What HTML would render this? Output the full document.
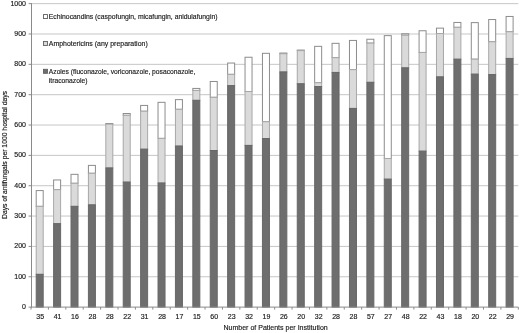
<!DOCTYPE html>
<html><head><meta charset="utf-8"><style>
html,body{margin:0;padding:0;background:#fff;}
body{width:520px;height:333px;overflow:hidden;}
svg{display:block;}
.t{font-family:"Liberation Sans",sans-serif;font-size:7px;fill:#1a1a1a;stroke:#1a1a1a;stroke-width:0.16px;}
svg{will-change:transform;}
.l{font-size:7.5px;}
</style></head><body>
<svg width="520" height="333" viewBox="0 0 520 333">
<rect width="520" height="333" fill="#fff"/>
<line x1="31.0" y1="276.75" x2="518.3" y2="276.75" stroke="#c6c6c6" stroke-width="1"/>
<line x1="31.0" y1="246.41" x2="518.3" y2="246.41" stroke="#c6c6c6" stroke-width="1"/>
<line x1="31.0" y1="216.06" x2="518.3" y2="216.06" stroke="#c6c6c6" stroke-width="1"/>
<line x1="31.0" y1="185.72" x2="518.3" y2="185.72" stroke="#c6c6c6" stroke-width="1"/>
<line x1="31.0" y1="155.38" x2="518.3" y2="155.38" stroke="#c6c6c6" stroke-width="1"/>
<line x1="31.0" y1="125.03" x2="518.3" y2="125.03" stroke="#c6c6c6" stroke-width="1"/>
<line x1="31.0" y1="94.69" x2="518.3" y2="94.69" stroke="#c6c6c6" stroke-width="1"/>
<line x1="31.0" y1="64.34" x2="518.3" y2="64.34" stroke="#c6c6c6" stroke-width="1"/>
<line x1="31.0" y1="33.99" x2="518.3" y2="33.99" stroke="#c6c6c6" stroke-width="1"/>
<line x1="31.0" y1="3.65" x2="518.3" y2="3.65" stroke="#c6c6c6" stroke-width="1"/>
<line x1="28.6" y1="307.10" x2="31.0" y2="307.10" stroke="#8a8a8a" stroke-width="1"/>
<text x="26" y="309.00" text-anchor="end" class="t">0</text>
<line x1="28.6" y1="276.75" x2="31.0" y2="276.75" stroke="#8a8a8a" stroke-width="1"/>
<text x="26" y="278.65" text-anchor="end" class="t">100</text>
<line x1="28.6" y1="246.41" x2="31.0" y2="246.41" stroke="#8a8a8a" stroke-width="1"/>
<text x="26" y="248.31" text-anchor="end" class="t">200</text>
<line x1="28.6" y1="216.06" x2="31.0" y2="216.06" stroke="#8a8a8a" stroke-width="1"/>
<text x="26" y="217.97" text-anchor="end" class="t">300</text>
<line x1="28.6" y1="185.72" x2="31.0" y2="185.72" stroke="#8a8a8a" stroke-width="1"/>
<text x="26" y="187.62" text-anchor="end" class="t">400</text>
<line x1="28.6" y1="155.38" x2="31.0" y2="155.38" stroke="#8a8a8a" stroke-width="1"/>
<text x="26" y="157.28" text-anchor="end" class="t">500</text>
<line x1="28.6" y1="125.03" x2="31.0" y2="125.03" stroke="#8a8a8a" stroke-width="1"/>
<text x="26" y="126.93" text-anchor="end" class="t">600</text>
<line x1="28.6" y1="94.69" x2="31.0" y2="94.69" stroke="#8a8a8a" stroke-width="1"/>
<text x="26" y="96.59" text-anchor="end" class="t">700</text>
<line x1="28.6" y1="64.34" x2="31.0" y2="64.34" stroke="#8a8a8a" stroke-width="1"/>
<text x="26" y="66.24" text-anchor="end" class="t">800</text>
<line x1="28.6" y1="33.99" x2="31.0" y2="33.99" stroke="#8a8a8a" stroke-width="1"/>
<text x="26" y="35.89" text-anchor="end" class="t">900</text>
<line x1="28.6" y1="3.65" x2="31.0" y2="3.65" stroke="#8a8a8a" stroke-width="1"/>
<text x="26" y="5.55" text-anchor="end" class="t">1000</text>
<rect x="36.20" y="190.58" width="7.00" height="15.78" fill="#ffffff" stroke="#8c8c8c" stroke-width="1"/>
<rect x="36.20" y="206.35" width="7.00" height="67.97" fill="#dadada" stroke="#a8a8a8" stroke-width="1"/>
<rect x="36.20" y="274.33" width="7.00" height="32.77" fill="#6e6e6e" stroke="#686868" stroke-width="1"/>
<rect x="53.61" y="179.95" width="7.00" height="9.71" fill="#ffffff" stroke="#8c8c8c" stroke-width="1"/>
<rect x="53.61" y="189.66" width="7.00" height="33.99" fill="#dadada" stroke="#a8a8a8" stroke-width="1"/>
<rect x="53.61" y="223.65" width="7.00" height="83.45" fill="#6e6e6e" stroke="#686868" stroke-width="1"/>
<rect x="71.01" y="174.34" width="7.00" height="8.95" fill="#ffffff" stroke="#8c8c8c" stroke-width="1"/>
<rect x="71.01" y="183.29" width="7.00" height="23.06" fill="#dadada" stroke="#a8a8a8" stroke-width="1"/>
<rect x="71.01" y="206.35" width="7.00" height="100.75" fill="#6e6e6e" stroke="#686868" stroke-width="1"/>
<rect x="88.41" y="165.39" width="7.00" height="7.89" fill="#ffffff" stroke="#8c8c8c" stroke-width="1"/>
<rect x="88.41" y="173.28" width="7.00" height="31.56" fill="#dadada" stroke="#a8a8a8" stroke-width="1"/>
<rect x="88.41" y="204.84" width="7.00" height="102.26" fill="#6e6e6e" stroke="#686868" stroke-width="1"/>
<rect x="105.82" y="123.51" width="7.00" height="0.61" fill="#ffffff" stroke="#8c8c8c" stroke-width="1"/>
<rect x="105.82" y="124.12" width="7.00" height="43.82" fill="#dadada" stroke="#a8a8a8" stroke-width="1"/>
<rect x="105.82" y="167.94" width="7.00" height="139.16" fill="#6e6e6e" stroke="#686868" stroke-width="1"/>
<rect x="123.22" y="113.50" width="7.00" height="1.82" fill="#ffffff" stroke="#8c8c8c" stroke-width="1"/>
<rect x="123.22" y="115.32" width="7.00" height="66.76" fill="#dadada" stroke="#a8a8a8" stroke-width="1"/>
<rect x="123.22" y="182.08" width="7.00" height="125.02" fill="#6e6e6e" stroke="#686868" stroke-width="1"/>
<rect x="140.62" y="105.43" width="7.00" height="5.80" fill="#ffffff" stroke="#8c8c8c" stroke-width="1"/>
<rect x="140.62" y="111.22" width="7.00" height="37.96" fill="#dadada" stroke="#a8a8a8" stroke-width="1"/>
<rect x="140.62" y="149.18" width="7.00" height="157.92" fill="#6e6e6e" stroke="#686868" stroke-width="1"/>
<rect x="158.03" y="102.33" width="7.00" height="36.05" fill="#ffffff" stroke="#8c8c8c" stroke-width="1"/>
<rect x="158.03" y="138.38" width="7.00" height="44.61" fill="#dadada" stroke="#a8a8a8" stroke-width="1"/>
<rect x="158.03" y="182.99" width="7.00" height="124.11" fill="#6e6e6e" stroke="#686868" stroke-width="1"/>
<rect x="175.43" y="99.63" width="7.00" height="9.68" fill="#ffffff" stroke="#8c8c8c" stroke-width="1"/>
<rect x="175.43" y="109.31" width="7.00" height="36.72" fill="#dadada" stroke="#a8a8a8" stroke-width="1"/>
<rect x="175.43" y="146.03" width="7.00" height="161.07" fill="#6e6e6e" stroke="#686868" stroke-width="1"/>
<rect x="192.83" y="88.43" width="7.00" height="2.00" fill="#ffffff" stroke="#8c8c8c" stroke-width="1"/>
<rect x="192.83" y="90.44" width="7.00" height="9.89" fill="#dadada" stroke="#a8a8a8" stroke-width="1"/>
<rect x="192.83" y="100.33" width="7.00" height="206.77" fill="#6e6e6e" stroke="#686868" stroke-width="1"/>
<rect x="210.24" y="81.48" width="7.00" height="15.84" fill="#ffffff" stroke="#8c8c8c" stroke-width="1"/>
<rect x="210.24" y="97.33" width="7.00" height="53.19" fill="#dadada" stroke="#a8a8a8" stroke-width="1"/>
<rect x="210.24" y="150.52" width="7.00" height="156.58" fill="#6e6e6e" stroke="#686868" stroke-width="1"/>
<rect x="227.64" y="63.04" width="7.00" height="11.32" fill="#ffffff" stroke="#8c8c8c" stroke-width="1"/>
<rect x="227.64" y="74.35" width="7.00" height="11.23" fill="#dadada" stroke="#a8a8a8" stroke-width="1"/>
<rect x="227.64" y="85.58" width="7.00" height="221.52" fill="#6e6e6e" stroke="#686868" stroke-width="1"/>
<rect x="245.04" y="57.24" width="7.00" height="34.26" fill="#ffffff" stroke="#8c8c8c" stroke-width="1"/>
<rect x="245.04" y="91.50" width="7.00" height="53.92" fill="#dadada" stroke="#a8a8a8" stroke-width="1"/>
<rect x="245.04" y="145.42" width="7.00" height="161.68" fill="#6e6e6e" stroke="#686868" stroke-width="1"/>
<rect x="262.45" y="53.32" width="7.00" height="68.40" fill="#ffffff" stroke="#8c8c8c" stroke-width="1"/>
<rect x="262.45" y="121.72" width="7.00" height="16.81" fill="#dadada" stroke="#a8a8a8" stroke-width="1"/>
<rect x="262.45" y="138.53" width="7.00" height="168.57" fill="#6e6e6e" stroke="#686868" stroke-width="1"/>
<rect x="279.85" y="53.05" width="7.00" height="0.67" fill="#ffffff" stroke="#8c8c8c" stroke-width="1"/>
<rect x="279.85" y="53.72" width="7.00" height="18.21" fill="#dadada" stroke="#a8a8a8" stroke-width="1"/>
<rect x="279.85" y="71.93" width="7.00" height="235.17" fill="#6e6e6e" stroke="#686868" stroke-width="1"/>
<rect x="297.26" y="50.08" width="7.00" height="0.55" fill="#ffffff" stroke="#8c8c8c" stroke-width="1"/>
<rect x="297.26" y="50.62" width="7.00" height="33.14" fill="#dadada" stroke="#a8a8a8" stroke-width="1"/>
<rect x="297.26" y="83.76" width="7.00" height="223.34" fill="#6e6e6e" stroke="#686868" stroke-width="1"/>
<rect x="314.66" y="46.35" width="7.00" height="36.38" fill="#ffffff" stroke="#8c8c8c" stroke-width="1"/>
<rect x="314.66" y="82.73" width="7.00" height="3.82" fill="#dadada" stroke="#a8a8a8" stroke-width="1"/>
<rect x="314.66" y="86.55" width="7.00" height="220.55" fill="#6e6e6e" stroke="#686868" stroke-width="1"/>
<rect x="332.06" y="43.34" width="7.00" height="14.32" fill="#ffffff" stroke="#8c8c8c" stroke-width="1"/>
<rect x="332.06" y="57.66" width="7.00" height="14.78" fill="#dadada" stroke="#a8a8a8" stroke-width="1"/>
<rect x="332.06" y="72.44" width="7.00" height="234.66" fill="#6e6e6e" stroke="#686868" stroke-width="1"/>
<rect x="349.47" y="40.43" width="7.00" height="29.22" fill="#ffffff" stroke="#8c8c8c" stroke-width="1"/>
<rect x="349.47" y="69.65" width="7.00" height="38.78" fill="#dadada" stroke="#a8a8a8" stroke-width="1"/>
<rect x="349.47" y="108.43" width="7.00" height="198.67" fill="#6e6e6e" stroke="#686868" stroke-width="1"/>
<rect x="366.87" y="39.24" width="7.00" height="3.88" fill="#ffffff" stroke="#8c8c8c" stroke-width="1"/>
<rect x="366.87" y="43.13" width="7.00" height="39.18" fill="#dadada" stroke="#a8a8a8" stroke-width="1"/>
<rect x="366.87" y="82.30" width="7.00" height="224.80" fill="#6e6e6e" stroke="#686868" stroke-width="1"/>
<rect x="384.27" y="35.63" width="7.00" height="122.90" fill="#ffffff" stroke="#8c8c8c" stroke-width="1"/>
<rect x="384.27" y="158.53" width="7.00" height="20.60" fill="#dadada" stroke="#a8a8a8" stroke-width="1"/>
<rect x="384.27" y="179.14" width="7.00" height="127.96" fill="#6e6e6e" stroke="#686868" stroke-width="1"/>
<rect x="401.68" y="33.75" width="7.00" height="1.46" fill="#ffffff" stroke="#8c8c8c" stroke-width="1"/>
<rect x="401.68" y="35.21" width="7.00" height="32.62" fill="#dadada" stroke="#a8a8a8" stroke-width="1"/>
<rect x="401.68" y="67.83" width="7.00" height="239.27" fill="#6e6e6e" stroke="#686868" stroke-width="1"/>
<rect x="419.08" y="30.75" width="7.00" height="21.70" fill="#ffffff" stroke="#8c8c8c" stroke-width="1"/>
<rect x="419.08" y="52.44" width="7.00" height="98.68" fill="#dadada" stroke="#a8a8a8" stroke-width="1"/>
<rect x="419.08" y="151.13" width="7.00" height="155.97" fill="#6e6e6e" stroke="#686868" stroke-width="1"/>
<rect x="436.48" y="28.14" width="7.00" height="5.40" fill="#ffffff" stroke="#8c8c8c" stroke-width="1"/>
<rect x="436.48" y="33.54" width="7.00" height="43.30" fill="#dadada" stroke="#a8a8a8" stroke-width="1"/>
<rect x="436.48" y="76.84" width="7.00" height="230.26" fill="#6e6e6e" stroke="#686868" stroke-width="1"/>
<rect x="453.89" y="22.46" width="7.00" height="4.86" fill="#ffffff" stroke="#8c8c8c" stroke-width="1"/>
<rect x="453.89" y="27.32" width="7.00" height="31.86" fill="#dadada" stroke="#a8a8a8" stroke-width="1"/>
<rect x="453.89" y="59.18" width="7.00" height="247.92" fill="#6e6e6e" stroke="#686868" stroke-width="1"/>
<rect x="471.29" y="22.62" width="7.00" height="36.57" fill="#ffffff" stroke="#8c8c8c" stroke-width="1"/>
<rect x="471.29" y="59.18" width="7.00" height="14.96" fill="#dadada" stroke="#a8a8a8" stroke-width="1"/>
<rect x="471.29" y="74.14" width="7.00" height="232.96" fill="#6e6e6e" stroke="#686868" stroke-width="1"/>
<rect x="488.69" y="19.55" width="7.00" height="22.21" fill="#ffffff" stroke="#8c8c8c" stroke-width="1"/>
<rect x="488.69" y="41.76" width="7.00" height="32.77" fill="#dadada" stroke="#a8a8a8" stroke-width="1"/>
<rect x="488.69" y="74.54" width="7.00" height="232.56" fill="#6e6e6e" stroke="#686868" stroke-width="1"/>
<rect x="506.10" y="16.46" width="7.00" height="15.29" fill="#ffffff" stroke="#8c8c8c" stroke-width="1"/>
<rect x="506.10" y="31.75" width="7.00" height="26.70" fill="#dadada" stroke="#a8a8a8" stroke-width="1"/>
<rect x="506.10" y="58.45" width="7.00" height="248.65" fill="#6e6e6e" stroke="#686868" stroke-width="1"/>
<line x1="31.0" y1="307.1" x2="518.3" y2="307.1" stroke="#8a8a8a" stroke-width="1"/>
<line x1="31.5" y1="3.15" x2="31.5" y2="307.6" stroke="#8a8a8a" stroke-width="1"/>
<line x1="31.00" y1="307.1" x2="31.00" y2="309.6" stroke="#8a8a8a" stroke-width="1"/>
<line x1="48.40" y1="307.1" x2="48.40" y2="309.6" stroke="#8a8a8a" stroke-width="1"/>
<line x1="65.81" y1="307.1" x2="65.81" y2="309.6" stroke="#8a8a8a" stroke-width="1"/>
<line x1="83.21" y1="307.1" x2="83.21" y2="309.6" stroke="#8a8a8a" stroke-width="1"/>
<line x1="100.61" y1="307.1" x2="100.61" y2="309.6" stroke="#8a8a8a" stroke-width="1"/>
<line x1="118.02" y1="307.1" x2="118.02" y2="309.6" stroke="#8a8a8a" stroke-width="1"/>
<line x1="135.42" y1="307.1" x2="135.42" y2="309.6" stroke="#8a8a8a" stroke-width="1"/>
<line x1="152.82" y1="307.1" x2="152.82" y2="309.6" stroke="#8a8a8a" stroke-width="1"/>
<line x1="170.23" y1="307.1" x2="170.23" y2="309.6" stroke="#8a8a8a" stroke-width="1"/>
<line x1="187.63" y1="307.1" x2="187.63" y2="309.6" stroke="#8a8a8a" stroke-width="1"/>
<line x1="205.04" y1="307.1" x2="205.04" y2="309.6" stroke="#8a8a8a" stroke-width="1"/>
<line x1="222.44" y1="307.1" x2="222.44" y2="309.6" stroke="#8a8a8a" stroke-width="1"/>
<line x1="239.84" y1="307.1" x2="239.84" y2="309.6" stroke="#8a8a8a" stroke-width="1"/>
<line x1="257.25" y1="307.1" x2="257.25" y2="309.6" stroke="#8a8a8a" stroke-width="1"/>
<line x1="274.65" y1="307.1" x2="274.65" y2="309.6" stroke="#8a8a8a" stroke-width="1"/>
<line x1="292.05" y1="307.1" x2="292.05" y2="309.6" stroke="#8a8a8a" stroke-width="1"/>
<line x1="309.46" y1="307.1" x2="309.46" y2="309.6" stroke="#8a8a8a" stroke-width="1"/>
<line x1="326.86" y1="307.1" x2="326.86" y2="309.6" stroke="#8a8a8a" stroke-width="1"/>
<line x1="344.26" y1="307.1" x2="344.26" y2="309.6" stroke="#8a8a8a" stroke-width="1"/>
<line x1="361.67" y1="307.1" x2="361.67" y2="309.6" stroke="#8a8a8a" stroke-width="1"/>
<line x1="379.07" y1="307.1" x2="379.07" y2="309.6" stroke="#8a8a8a" stroke-width="1"/>
<line x1="396.48" y1="307.1" x2="396.48" y2="309.6" stroke="#8a8a8a" stroke-width="1"/>
<line x1="413.88" y1="307.1" x2="413.88" y2="309.6" stroke="#8a8a8a" stroke-width="1"/>
<line x1="431.28" y1="307.1" x2="431.28" y2="309.6" stroke="#8a8a8a" stroke-width="1"/>
<line x1="448.69" y1="307.1" x2="448.69" y2="309.6" stroke="#8a8a8a" stroke-width="1"/>
<line x1="466.09" y1="307.1" x2="466.09" y2="309.6" stroke="#8a8a8a" stroke-width="1"/>
<line x1="483.49" y1="307.1" x2="483.49" y2="309.6" stroke="#8a8a8a" stroke-width="1"/>
<line x1="500.90" y1="307.1" x2="500.90" y2="309.6" stroke="#8a8a8a" stroke-width="1"/>
<line x1="518.30" y1="307.1" x2="518.30" y2="309.6" stroke="#8a8a8a" stroke-width="1"/>
<text x="40.20" y="319.3" text-anchor="middle" class="t">35</text>
<text x="57.61" y="319.3" text-anchor="middle" class="t">41</text>
<text x="75.01" y="319.3" text-anchor="middle" class="t">16</text>
<text x="92.41" y="319.3" text-anchor="middle" class="t">28</text>
<text x="109.82" y="319.3" text-anchor="middle" class="t">28</text>
<text x="127.22" y="319.3" text-anchor="middle" class="t">22</text>
<text x="144.62" y="319.3" text-anchor="middle" class="t">31</text>
<text x="162.03" y="319.3" text-anchor="middle" class="t">28</text>
<text x="179.43" y="319.3" text-anchor="middle" class="t">17</text>
<text x="196.83" y="319.3" text-anchor="middle" class="t">15</text>
<text x="214.24" y="319.3" text-anchor="middle" class="t">60</text>
<text x="231.64" y="319.3" text-anchor="middle" class="t">23</text>
<text x="249.04" y="319.3" text-anchor="middle" class="t">32</text>
<text x="266.45" y="319.3" text-anchor="middle" class="t">19</text>
<text x="283.85" y="319.3" text-anchor="middle" class="t">26</text>
<text x="301.26" y="319.3" text-anchor="middle" class="t">20</text>
<text x="318.66" y="319.3" text-anchor="middle" class="t">32</text>
<text x="336.06" y="319.3" text-anchor="middle" class="t">28</text>
<text x="353.47" y="319.3" text-anchor="middle" class="t">28</text>
<text x="370.87" y="319.3" text-anchor="middle" class="t">57</text>
<text x="388.27" y="319.3" text-anchor="middle" class="t">27</text>
<text x="405.68" y="319.3" text-anchor="middle" class="t">48</text>
<text x="423.08" y="319.3" text-anchor="middle" class="t">22</text>
<text x="440.48" y="319.3" text-anchor="middle" class="t">43</text>
<text x="457.89" y="319.3" text-anchor="middle" class="t">18</text>
<text x="475.29" y="319.3" text-anchor="middle" class="t">20</text>
<text x="492.69" y="319.3" text-anchor="middle" class="t">22</text>
<text x="510.10" y="319.3" text-anchor="middle" class="t">29</text>
<text x="275.6" y="330" text-anchor="middle" class="t l" textLength="104.3" lengthAdjust="spacingAndGlyphs">Number of Patients per Institution</text>
<text transform="translate(6.5,155.0) rotate(-90)" text-anchor="middle" class="t" style="font-size:6.6px" textLength="128" lengthAdjust="spacingAndGlyphs">Days of antifungals per 1000 hospital days</text>
<rect x="43.45" y="14.55" width="4.0" height="4.0" fill="#ffffff" stroke="#606060" stroke-width="0.9"/>
<text x="48.8" y="19.4" class="t l" textLength="168.7" lengthAdjust="spacingAndGlyphs">Echinocandins (caspofungin, micafungin, anidulafungin)</text>
<rect x="43.45" y="41.45" width="4.0" height="4.0" fill="#dadada" stroke="#606060" stroke-width="0.9"/>
<text x="48.8" y="46.3" class="t l" textLength="98.9" lengthAdjust="spacingAndGlyphs">Amphotericins (any preparation)</text>
<rect x="43.45" y="69.3" width="4.0" height="4.0" fill="#6e6e6e" stroke="#606060" stroke-width="0.9"/>
<text x="48.8" y="73.8" class="t l" textLength="146.6" lengthAdjust="spacingAndGlyphs">Azoles (fluconazole, voriconazole, posaconazole,</text>
<text x="48.8" y="82.7" class="t l" textLength="38.6" lengthAdjust="spacingAndGlyphs">itraconazole)</text>
</svg>
</body></html>
